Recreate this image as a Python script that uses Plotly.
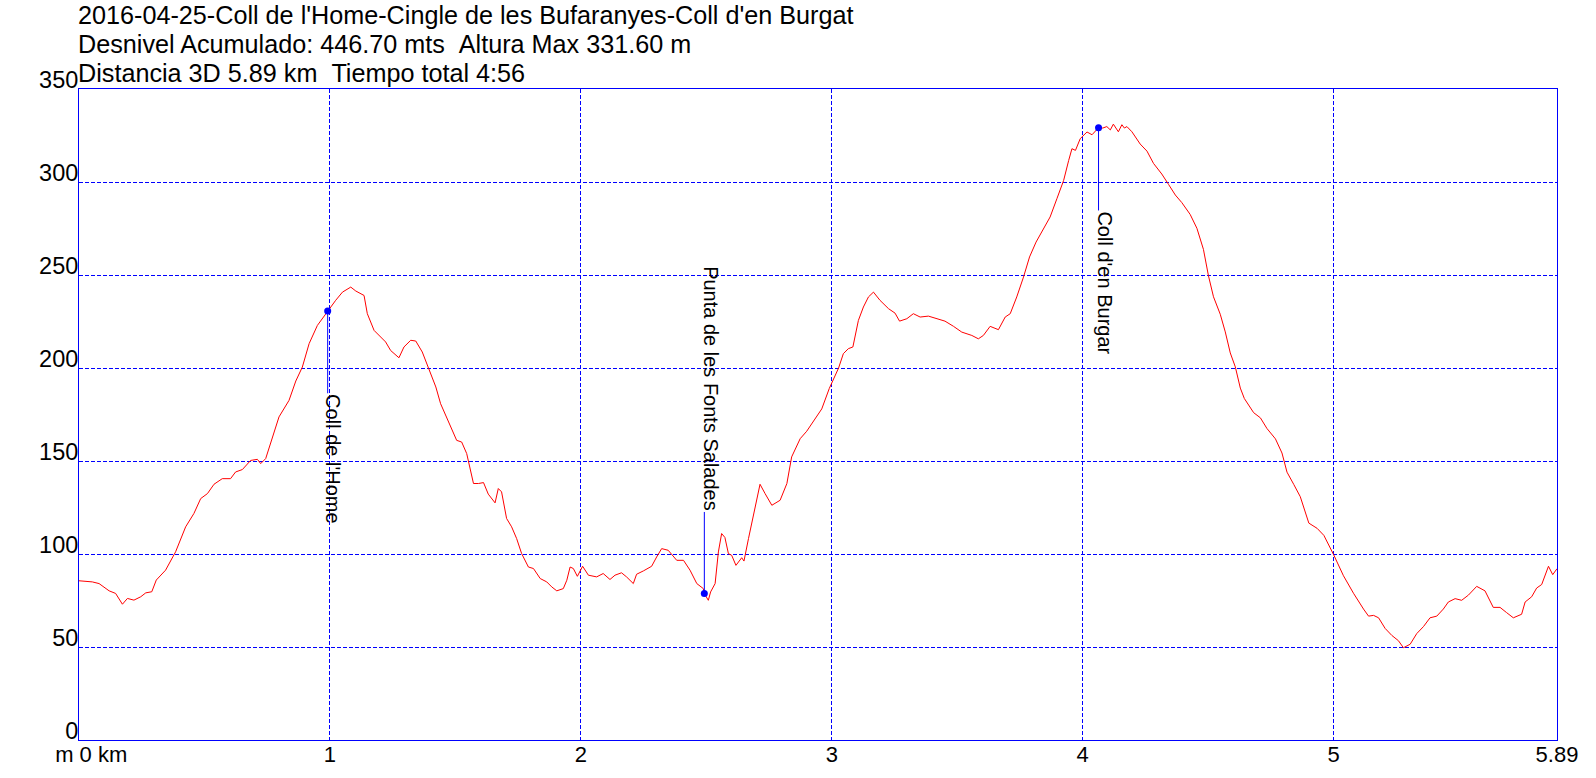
import plotly.graph_objects as go

# ---- data -------------------------------------------------------------
dist_km = [
    0.000, 0.053, 0.080, 0.120, 0.146, 0.173, 0.193, 0.219, 0.246, 0.266,
    0.290, 0.308, 0.345, 0.385, 0.425, 0.458, 0.485, 0.512, 0.538, 0.571,
    0.604, 0.624, 0.651, 0.684, 0.711, 0.724, 0.744, 0.771, 0.797, 0.837,
    0.864, 0.890, 0.917, 0.950, 0.990, 1.023, 1.050, 1.083, 1.103, 1.136,
    1.149, 1.176, 1.222, 1.242, 1.275, 1.295, 1.322, 1.342, 1.368, 1.395,
    1.422, 1.441, 1.468, 1.505, 1.525, 1.545, 1.572, 1.592, 1.612, 1.631,
    1.658, 1.671, 1.684, 1.704, 1.724, 1.744, 1.764, 1.791, 1.811, 1.838,
    1.864, 1.884, 1.904, 1.930, 1.944, 1.957, 1.970, 1.986, 2.007, 2.030,
    2.063, 2.089, 2.116, 2.136, 2.162, 2.182, 2.209, 2.222, 2.249, 2.282,
    2.302, 2.322, 2.348, 2.382, 2.409, 2.435, 2.462, 2.488, 2.492, 2.508,
    2.517, 2.535, 2.548, 2.561, 2.574, 2.588, 2.601, 2.618, 2.641, 2.650,
    2.668, 2.688, 2.714, 2.734, 2.761, 2.794, 2.821, 2.840, 2.874, 2.900,
    2.930, 2.960, 2.990, 3.027, 3.046, 3.066, 3.084, 3.106, 3.126, 3.146,
    3.166, 3.192, 3.226, 3.252, 3.270, 3.299, 3.325, 3.352, 3.385, 3.418,
    3.451, 3.485, 3.518, 3.558, 3.584, 3.604, 3.631, 3.664, 3.691, 3.711,
    3.737, 3.764, 3.788, 3.814, 3.844, 3.870, 3.897, 3.924, 3.944, 3.957,
    3.971, 3.990, 4.017, 4.037, 4.063, 4.080, 4.096, 4.110, 4.122, 4.135,
    4.142, 4.156, 4.166, 4.176, 4.196, 4.229, 4.256, 4.282, 4.315, 4.342,
    4.369, 4.395, 4.428, 4.455, 4.481, 4.501, 4.521, 4.548, 4.568, 4.588,
    4.608, 4.628, 4.644, 4.681, 4.708, 4.734, 4.768, 4.794, 4.814, 4.841,
    4.867, 4.901, 4.934, 4.961, 5.000, 5.039, 5.079, 5.119, 5.139, 5.159,
    5.179, 5.205, 5.232, 5.258, 5.278, 5.305, 5.331, 5.358, 5.384, 5.411,
    5.437, 5.457, 5.484, 5.510, 5.537, 5.570, 5.603, 5.636, 5.663, 5.689,
    5.716, 5.749, 5.763, 5.789, 5.809, 5.829, 5.843, 5.856, 5.873, 5.890,
]
elev_m = [
    85.6, 85.0, 84.1, 80.2, 78.8, 73.0, 76.1, 75.2, 77.0, 79.1,
    79.7, 86.0, 91.3, 101.2, 114.6, 121.8, 129.8, 132.5, 137.5, 140.5,
    140.5, 144.1, 145.4, 150.3, 150.9, 148.6, 151.3, 163.0, 173.7, 182.6,
    193.0, 200.5, 213.1, 222.9, 230.6, 236.4, 240.8, 243.5, 241.4, 239.0,
    229.2, 220.2, 214.0, 209.4, 205.5, 211.3, 214.9, 214.5, 208.6, 198.7,
    189.8, 180.8, 172.8, 161.1, 160.2, 154.0, 137.9, 137.9, 138.4, 132.2,
    127.5, 135.2, 133.4, 119.1, 114.6, 108.3, 100.2, 93.0, 92.2, 86.8,
    85.0, 82.3, 80.2, 81.4, 85.9, 93.0, 92.2, 88.0, 93.4, 88.6,
    87.7, 89.5, 86.3, 88.6, 89.9, 87.7, 84.1, 89.1, 90.9, 93.4,
    98.4, 102.9, 102.0, 96.6, 96.6, 91.3, 84.1, 81.4, 78.7, 75.1,
    79.6, 84.1, 101.1, 111.0, 108.9, 100.2, 99.3, 93.9, 98.0, 96.2,
    108.3, 121.7, 137.5, 132.5, 126.2, 128.9, 137.9, 152.2, 162.0, 166.0,
    172.0, 178.0, 189.0, 200.0, 207.7, 210.4, 211.3, 225.6, 232.8, 238.2,
    240.8, 236.4, 231.9, 229.5, 225.2, 226.5, 229.2, 227.4, 227.9, 226.5,
    225.2, 222.4, 219.3, 217.5, 215.7, 217.5, 222.4, 220.6, 227.4, 229.2,
    238.2, 248.9, 259.7, 267.7, 274.9, 281.2, 291.0, 300.9, 311.6, 317.9,
    317.0, 323.3, 326.9, 325.4, 329.2, 329.0, 329.8, 328.0, 331.1, 328.5,
    327.0, 330.8, 329.0, 329.8, 327.0, 320.4, 316.6, 310.0, 304.3, 298.7,
    293.0, 288.9, 282.6, 275.1, 263.8, 249.6, 238.3, 228.9, 219.4, 208.1,
    200.6, 189.2, 183.6, 176.0, 173.2, 167.5, 161.9, 154.3, 144.0, 137.4,
    130.8, 116.6, 113.8, 110.0, 99.6, 88.3, 78.9, 70.4, 66.6, 67.0,
    65.7, 60.0, 56.2, 53.4, 49.6, 51.5, 57.2, 61.0, 65.7, 66.6,
    70.4, 74.2, 76.0, 75.1, 77.9, 82.6, 80.2, 71.3, 71.3, 68.5,
    65.7, 67.6, 74.2, 77.0, 81.7, 83.6, 88.3, 93.4, 88.9, 92.1,
]

waypoint_names = ["Coll de l'Home", "Punta de les Fonts Salades", "Coll d'en Burgar"]
waypoint_km = [0.991, 2.492, 4.063]
waypoint_m = [230.6, 78.7, 329.2]
label_m = [186.4, 122.6, 284.7]          # where the leader line ends / label starts

title_lines = [
    "2016-04-25-Coll de l'Home-Cingle de les Bufaranyes-Coll d'en Burgat",
    "Desnivel Acumulado: 446.70 mts\u00a0\u00a0Altura Max 331.60 m",
    "Distancia 3D 5.89 km\u00a0\u00a0Tiempo total 4:56",
]

x_tickvals = [0, 1, 2, 3, 4, 5, 5.89]
x_ticktext = ["\u00a0" * 4 + "m 0 km", "1", "2", "3", "4", "5", "5.89"]
y_tickvals = [0, 50, 100, 150, 200, 250, 300, 350]

# ---- styling ------------------------------------------------------------
FONT = "Liberation Sans, Arial, sans-serif"
BLUE = "#0000FF"
RED = "#FF0000"

fig = go.Figure()

fig.add_trace(go.Scatter(
    x=dist_km, y=elev_m, mode="lines",
    line=dict(color=RED, width=1), hoverinfo="skip", showlegend=False,
))

# leader lines from waypoint to label
for xk, ym, yl in zip(waypoint_km, waypoint_m, label_m):
    fig.add_trace(go.Scatter(
        x=[xk, xk], y=[ym, yl], mode="lines",
        line=dict(color=BLUE, width=1), hoverinfo="skip", showlegend=False,
    ))

fig.add_trace(go.Scatter(
    x=waypoint_km, y=waypoint_m, mode="markers",
    marker=dict(color=BLUE, size=7), hoverinfo="skip", showlegend=False,
))

for name, xk, ym, yl in zip(waypoint_names, waypoint_km, waypoint_m, label_m):
    fig.add_annotation(
        x=xk, y=yl, xref="x", yref="y", text=name, showarrow=False,
        textangle=90, xanchor="left",
        yanchor="bottom" if yl > ym else "top",
        font=dict(family=FONT, size=20, color="black"),
        xshift=-6, borderpad=0,
    )

title_y = [1.1143, 1.0690, 1.0253]
for t, ty in zip(title_lines, title_y):
    fig.add_annotation(
        x=0, y=ty, xref="paper", yref="paper", text=t, showarrow=False,
        xanchor="left", yanchor="middle", xshift=-3,
        font=dict(family=FONT, size=25.2, color="black"),
    )

fig.update_layout(
    width=1596, height=778,
    margin=dict(l=79, r=39, t=89, b=38, pad=0, autoexpand=False),
    paper_bgcolor="white", plot_bgcolor="white",
    font=dict(family=FONT, color="black"),
    showlegend=False,
    xaxis=dict(
        range=[0, 5.89], tickvals=x_tickvals, ticktext=x_ticktext,
        showgrid=True, gridcolor=BLUE, griddash="4px,2px", gridwidth=1,
        showline=True, linecolor=BLUE, linewidth=1, mirror=True,
        zeroline=False, ticks="", automargin=False, ticklabelstandoff=-5,
        tickfont=dict(size=22, family=FONT, color="black"),
    ),
    yaxis=dict(
        range=[0, 350], tickvals=y_tickvals,
        showgrid=True, gridcolor=BLUE, griddash="4px,2px", gridwidth=1,
        showline=True, linecolor=BLUE, linewidth=1, mirror=True,
        zeroline=False, ticks="", ticklabelposition="outside top",
        automargin=False, ticklabelstandoff=-5, ticklabelshift=7,
        tickfont=dict(size=23.5, family=FONT, color="black"),
    ),
)

fig.write_html(
    "out.html",
    config={"displayModeBar": False},
    post_script="document.body.style.margin='0px';document.body.style.overflow='hidden';",
)
